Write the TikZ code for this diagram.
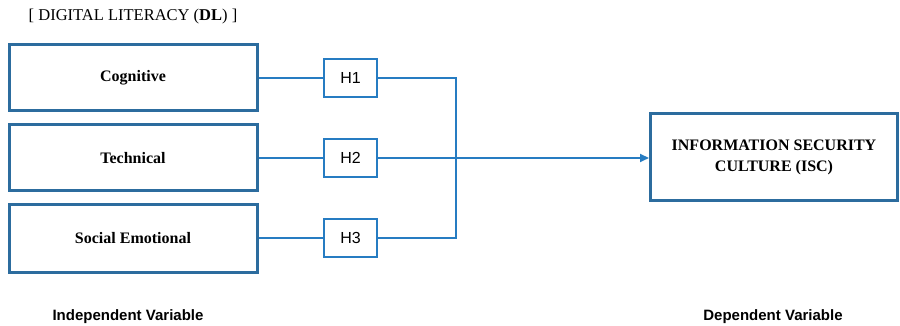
\documentclass[tikz,border=0pt]{standalone}
\usepackage{fontspec}
\setmainfont{Liberation Serif}
\setsansfont{Liberation Sans}
\usetikzlibrary{arrows.meta}
\definecolor{boxblue}{RGB}{44,108,158}
\definecolor{linkblue}{RGB}{38,124,194}
\tikzset{
  varbox/.style={draw=boxblue, line width=3pt, fill=white, minimum width=248pt,
    font=\fontsize{16}{21}\selectfont\bfseries, align=center, inner sep=2pt},
  hypbox/.style={draw=linkblue, line width=2.8pt, fill=white, minimum width=53pt,
    minimum height=38pt, font=\sffamily\fontsize{16}{18}\selectfont, inner sep=1pt},
  link/.style={draw=linkblue, line width=2.8pt},
  caption/.style={font=\sffamily\bfseries\fontsize{15}{17}\selectfont, inner sep=0pt}
}
\begin{document}
\begin{tikzpicture}[x=1pt, y=-1pt]
  \useasboundingbox (0,0) rectangle (900,326);

  % group title
  \node[font=\fontsize{16.5}{19}\selectfont, inner sep=0pt] (title) at (133,17)
    {[ DIGITAL LITERACY (\textbf{DL}) ]};

  % independent variables
  \node[varbox, minimum height=66pt] (cog)  at (133,77.5) {Cognitive};
  \node[varbox, minimum height=66pt] (tech) at (133,158)  {Technical};
  \node[varbox, minimum height=68pt] (soc)  at (133,238)  {Social Emotional};

  % hypotheses
  \node[hypbox] (h1) at (350.5,78)  {H1};
  \node[hypbox] (h2) at (350.5,158) {H2};
  \node[hypbox] (h3) at (350.5,238) {H3};

  % dependent variable
  \node[varbox, minimum width=247pt, minimum height=86pt] (isc) at (774,157)
    {INFORMATION SECURITY\\CULTURE (ISC)};

  % junction bar
  \coordinate (j1) at (456,78);
  \coordinate (j3) at (456,238);

  % connectors
  \draw[link] (cog.east |- h1.west) -- (h1.west);
  \draw[link] (tech.east |- h2.west) -- (h2.west);
  \draw[link] (soc.east |- h3.west) -- (h3.west);
  \draw[link] (h1.east) -- (j1) -- (j3) -- (h3.east);
  \draw[link, -{Triangle[length=9pt,width=8pt]}] (h2.east) -- (isc.west |- h2.east);

  % axis captions
  \node[caption] (indep) at (128,317) {Independent Variable};
  \node[caption] (dep)   at (773,317) {Dependent Variable};
\end{tikzpicture}
\end{document}
